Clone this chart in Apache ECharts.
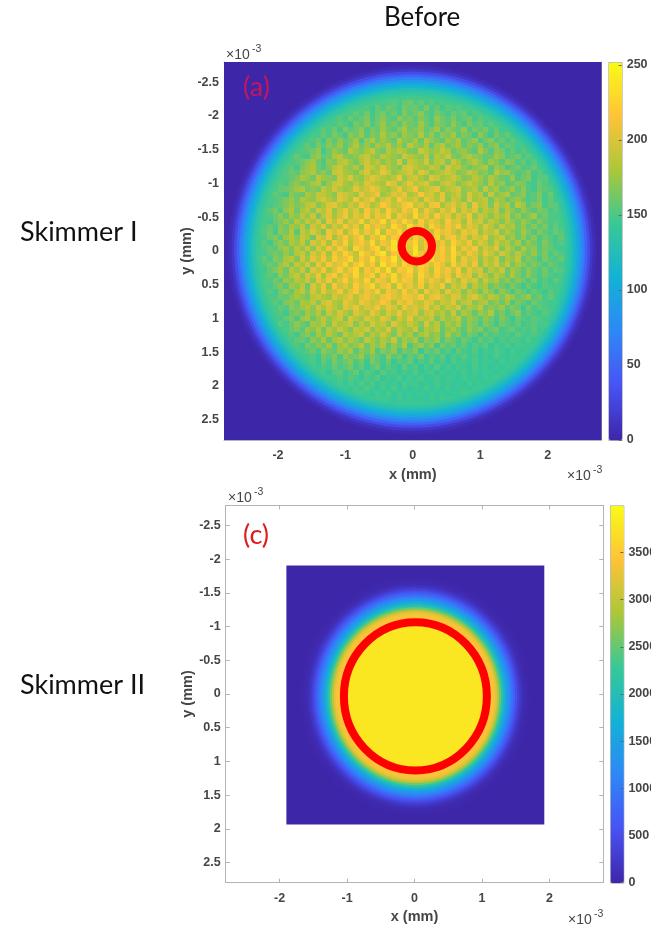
<!DOCTYPE html>
<html>
<head>
<meta charset="utf-8">
<style>html,body{margin:0;padding:0;background:#fff;overflow:hidden}#c{width:651px;height:928px}</style>
<script src="https://cdn.jsdelivr.net/npm/echarts@6/dist/echarts.min.js"></script>
</head>
<body>
<div id="c"></div>
<script>
const parula = ['#3E26A8','#4852F4','#2E87F7','#12B2D6','#37C897','#ABC739','#FEC338','#F9FB15'];
const yTicks = [-2.5,-2,-1.5,-1,-0.5,0,0.5,1,1.5,2,2.5];
const xTicks = [-2,-1,0,1,2];
const barTicksA = [0,50,100,150,200,250];
const barTicksC = [0,500,1000,1500,2000,2500,3000,3500];
const barMaxA = 252;
const barMaxC = 4000;
const axisLimit = 2.8;
const cellMm = 0.08;

// Panel (a) interior: counts per 0.08 mm cell, estimated by eye, top row first; each row is centred on x = 0.
const beamRows = [
[150,156,148,158,160,152,157,149,155,147],
[152,146,158,150,161,155,149,164,157,160,152,166,150,158,147,155,149,153],
[149,157,151,162,147,158,165,153,160,149,167,156,162,171,155,150,163,158,148,161,153,159,146,152],
[154,147,160,152,158,166,150,161,169,157,152,172,160,164,155,168,159,150,173,162,154,165,151,158,163,149,156,150],
[149,158,153,146,164,156,170,151,162,175,158,166,154,171,163,157,178,160,152,169,164,155,172,159,150,165,154,160,148,155],
[156,150,161,148,167,155,160,173,152,166,158,176,163,155,170,180,161,168,174,157,165,178,154,170,162,158,175,152,164,156,168,150,159,147],
[148,159,152,165,157,149,170,162,175,154,168,160,182,165,172,158,177,169,163,184,160,174,156,171,166,179,155,168,161,150,172,158,147,163,152,157],
[153,161,147,168,155,172,159,164,178,152,171,183,162,176,167,158,186,170,165,179,160,188,173,164,155,177,169,181,157,166,174,150,163,170,154,160,149,156],
[158,149,164,154,170,161,176,156,169,184,163,175,159,180,172,188,166,178,161,190,174,168,183,157,176,186,164,172,180,158,169,162,177,153,165,171,151,160,155,148],
[151,156,163,171,148,160,177,166,158,186,174,165,180,192,170,162,183,175,188,179,168,164,194,184,172,177,190,181,160,170,175,163,156,182,168,154,172,165,150,158,147,155],
[159,152,148,167,174,157,163,181,187,169,164,172,184,193,176,168,188,180,173,166,196,185,177,170,191,162,186,179,194,168,160,176,183,172,165,157,161,178,169,153,158,164,149,156],
[150,155,162,170,178,160,152,172,166,184,190,175,163,182,196,178,188,170,181,172,199,165,192,186,176,198,169,183,190,167,194,180,162,175,186,171,158,176,168,155,172,166,151,160,147,154],
[157,149,165,174,180,162,155,168,187,193,176,170,184,166,198,190,178,203,182,173,168,195,200,187,179,174,191,185,165,197,182,189,172,161,170,177,183,156,174,168,152,158,164,150,153,161],
[152,160,156,170,176,183,164,171,160,190,196,180,175,168,188,201,177,184,206,194,172,182,189,198,175,204,192,169,179,186,195,183,167,173,191,180,164,170,158,187,172,177,162,153,158,166,149,155],
[148,153,158,166,181,173,162,188,177,171,165,195,184,200,176,172,189,205,193,183,178,187,209,174,191,198,181,170,203,192,176,185,196,182,168,172,188,178,164,184,171,160,157,175,152,163,168,147,156,154],
[155,150,164,172,160,168,179,186,158,174,192,197,180,171,187,176,203,194,184,178,209,199,173,189,206,183,192,201,176,170,188,196,185,166,179,193,181,173,161,187,168,175,155,159,170,165,151,148,160,153],
[150,157,161,168,176,184,164,171,165,190,178,197,183,174,179,204,188,196,210,200,182,177,191,208,186,195,213,180,189,198,205,175,184,192,199,171,178,187,165,190,172,181,160,166,177,158,171,153,147,163,155,152],
[158,153,149,170,162,159,180,173,191,187,178,169,201,194,183,176,206,190,198,212,174,184,203,196,209,179,187,216,192,200,181,207,174,186,195,170,201,180,188,163,192,168,176,183,158,164,172,152,156,167,149,160],
[152,157,165,174,163,183,177,171,190,198,185,175,204,193,181,211,188,200,214,178,195,207,184,217,198,191,203,176,210,197,183,206,172,194,188,169,201,178,185,191,162,182,175,159,170,175,161,151,155,166,148,157],
[149,155,159,168,177,166,172,186,192,167,180,199,206,187,176,195,184,213,201,179,191,218,205,187,196,213,221,190,200,182,209,215,178,194,204,186,198,172,207,181,191,165,195,174,184,160,187,176,155,166,170,150,158,154],
[156,164,151,173,181,161,179,189,170,197,184,205,173,194,209,186,201,178,216,193,207,182,219,199,188,213,203,224,185,210,196,181,206,192,214,176,199,187,202,170,190,179,193,164,183,172,158,176,163,153,168,160,149,155],
[151,160,171,158,178,168,188,175,194,164,186,202,178,197,211,183,205,192,218,187,209,199,222,181,213,203,191,226,197,208,186,217,193,205,179,200,189,211,174,194,183,169,188,177,191,162,174,158,167,180,154,163,152,149],
[147,157,166,176,160,184,171,192,180,199,169,206,188,214,179,201,195,221,186,210,203,228,190,215,198,224,207,185,219,193,211,200,182,216,196,204,177,209,187,197,172,190,181,167,186,174,160,178,165,155,169,158,150,154],
[150,158,152,169,161,180,172,190,164,196,182,205,176,199,187,215,193,208,181,222,198,212,204,189,226,210,195,232,202,217,186,223,207,191,213,200,218,183,205,194,178,201,188,170,192,176,184,163,173,158,170,155,165,149,157,148],
[153,162,148,172,164,183,156,191,178,201,186,168,209,194,214,180,203,220,190,211,197,229,185,217,206,224,193,213,235,199,208,188,220,204,214,194,181,210,198,206,175,193,184,198,169,186,172,160,179,166,152,168,157,150,161,154],
[149,160,167,155,176,185,170,194,181,163,203,189,211,177,197,216,191,207,224,183,212,200,226,195,218,208,231,188,221,203,214,197,225,186,209,217,192,205,179,200,190,208,173,185,195,167,181,160,174,156,170,150,163,154,147,158],
[155,148,163,173,160,182,174,192,166,199,187,207,178,213,196,222,185,206,217,198,229,191,214,203,234,187,220,210,226,195,216,238,200,211,189,223,205,193,213,181,201,191,171,196,178,186,165,182,158,173,163,151,167,156,149,153],
[151,159,154,170,178,165,187,175,196,171,204,183,212,190,219,201,178,225,209,195,216,228,188,211,232,199,221,206,235,192,214,226,204,218,197,228,186,210,200,215,176,198,187,205,168,190,177,160,184,166,172,153,164,158,150,147],
[148,156,165,157,174,162,184,193,170,200,186,208,177,214,195,223,205,187,229,210,197,221,234,191,216,205,227,199,238,212,190,224,208,218,195,226,203,189,213,198,180,206,192,174,197,183,167,188,171,160,176,155,166,150,159,152],
[157,150,169,160,179,188,168,197,176,206,192,213,183,220,201,210,226,189,217,204,231,196,222,209,236,194,215,228,202,219,185,230,207,216,198,224,181,209,193,204,172,194,179,199,164,183,174,190,157,169,162,148,165,154,151,158],
[152,161,155,172,183,166,191,179,201,173,210,188,217,197,206,224,191,213,229,200,218,186,233,207,221,195,228,210,192,225,214,199,219,205,183,223,196,208,187,212,170,197,184,201,175,192,162,180,170,156,168,160,150,163,155,147],
[146,158,167,177,160,186,174,195,169,204,190,214,181,200,220,193,209,227,185,215,203,224,198,230,188,217,211,226,193,220,207,183,222,202,213,194,218,178,205,191,199,167,188,176,193,161,179,169,155,171,159,151,163,149,157,153],
[157,150,171,162,181,192,172,200,184,211,178,206,219,189,213,198,226,193,208,222,184,216,203,229,196,212,220,187,225,205,192,217,199,210,181,214,195,204,173,198,186,168,191,177,160,182,165,154,172,158,149,161,153,147],
[152,163,156,175,167,186,179,196,171,205,187,214,182,201,221,192,210,197,224,186,214,206,191,227,200,217,209,185,222,196,212,203,188,218,194,176,207,190,199,170,193,178,184,163,175,157,170,160,150,165,148,155,146,158],
[149,158,168,154,178,170,188,161,198,183,208,176,215,193,204,187,220,198,211,226,190,206,216,183,223,199,209,191,218,180,205,195,213,172,197,186,200,166,189,175,181,159,172,163,152,168,156,147,160,151,145,155,150,148],
[154,147,162,171,158,180,190,167,199,178,207,185,194,214,182,203,217,190,209,199,222,184,212,204,189,219,196,208,178,213,193,201,174,206,187,195,169,190,180,160,183,170,153,174,162,150,166,157,148,160,152,146,156,149],
[151,160,157,169,178,172,164,186,192,181,175,199,188,195,206,184,201,212,197,190,209,216,203,194,214,208,199,219,187,205,211,196,183,204,198,176,192,201,185,170,188,179,166,182,174,159,168,176,155,163,150,157],
[156,149,165,172,160,181,176,189,168,194,201,183,177,207,196,186,212,203,191,198,216,205,181,210,199,213,193,186,206,200,178,196,189,204,172,187,194,169,180,185,163,173,160,178,152,166,157,148,162,154,151,147],
[148,158,153,170,163,177,185,171,193,180,198,188,174,204,192,209,183,200,196,213,187,206,198,178,211,194,203,189,208,182,197,175,192,186,201,167,183,176,190,161,172,165,178,154,168,159,146,163,150,157,152,149],
[153,147,162,168,157,179,170,186,164,192,178,199,185,172,203,191,181,207,194,176,201,188,209,183,196,205,174,192,199,179,187,170,195,163,182,173,158,176,169,184,155,166,150,161,171,149,158,152,146,155],
[149,157,166,152,174,182,160,177,189,171,183,195,167,198,186,175,202,190,179,205,193,170,199,184,207,176,191,182,196,165,187,173,180,190,161,175,168,156,172,163,150,167,158,145,160,153,148,156,151,147],
[155,148,159,171,163,153,180,173,187,165,193,178,184,197,169,189,175,200,183,192,172,204,186,177,195,181,168,198,174,188,160,179,170,183,157,173,164,151,169,159,147,162,154,149,158,146,152,155,148,150],
[150,158,165,154,176,168,183,160,188,174,194,179,166,190,184,197,171,186,178,201,169,192,182,175,196,163,185,177,189,158,172,181,165,154,176,162,170,150,159,166,148,155,161,147,153,149,156,146],
[154,147,163,171,157,179,166,185,173,161,191,177,183,194,168,187,174,196,180,164,190,172,184,159,178,188,167,175,156,181,163,170,152,165,158,146,161,151,156,148,153,145,157,150,147,152],
[148,156,160,150,172,164,181,158,176,187,169,183,174,162,191,178,167,185,172,193,160,179,170,182,155,173,165,177,151,168,159,149,163,154,146,158,150,155,144,152,147,153,149,145,151,146],
[152,146,165,157,170,162,178,154,175,183,166,173,187,160,178,169,182,156,174,163,185,151,168,176,159,171,147,164,155,160,149,157,145,153,148,156,143,150,146,152,144,149,147,145],
[149,155,160,150,171,163,158,176,167,181,155,172,164,178,152,169,161,174,149,166,157,170,146,160,153,163,148,155,144,158,150,146,153,143,149,145,151,147,142,148,144,146],
[147,153,145,162,156,168,150,172,160,165,176,153,167,158,148,171,155,162,146,159,150,164,144,155,149,158,143,152,147,154,145,150,142,148,144,151,146,143,147,145],
[150,143,158,148,165,154,160,170,152,163,146,167,156,149,161,144,155,151,159,143,153,147,157,145,150,142,152,146,149,144,151,143,147,145,142,148,144,146],
[145,152,147,160,151,156,164,148,158,144,153,162,146,155,149,143,157,147,152,142,150,145,154,144,148,143,149,146,142,150,144,147,143,146,142,145],
[148,143,153,157,146,151,160,144,154,149,143,156,147,151,142,149,145,153,143,147,150,142,148,144,146,141,149,143,147,142,145,144,143,146],
[145,151,146,155,148,143,152,147,154,142,149,145,151,143,148,144,150,142,146,149,143,147,145,141,148,144,146,142,147,144],
[148,142,150,145,153,146,151,143,149,144,147,142,150,145,148,143,146,141,149,144,147,142,145,143,148,144,146,143],
[143,149,145,151,146,142,148,144,150,143,147,141,146,144,148,142,145,143,147,141,144,146,142,145],
[146,141,148,144,150,143,147,142,145,144,146,141,147,143,145,142,144,143],
[145,141,147,143,146,142,144,141,146,143]
];

// Panel (a) rim: radial profile read at the beam's edge (mm, counts).
const rimRadius = [2.74,2.72,2.68,2.64,2.60,2.56,2.52,2.48,2.44,2.40,2.36,2.32,2.28,2.24];
const rimValue  = [3,6,15,30,48,65,82,98,112,124,134,142,147,150];
const beamCenterA = [-0.01,-0.02];
const squareA = [-2.8,-2.8,2.8,2.8];

// Panel (c): radial profile read along the beam's horizontal diameter (mm, counts).
const profileRadius = [1.72,1.68,1.64,1.60,1.57,1.54,1.51,1.48,1.45,1.42,1.39,1.36,1.33,1.30,1.27,1.24,1.21,1.18,1.15,1.12,1.05];
const profileValue  = [10,30,70,130,220,350,520,720,920,1120,1330,1570,1850,2150,2550,2950,3250,3380,3430,3450,3800];
const beamCenterC = [0.013,0.034];
const squareC = [-1.9,-1.905,1.925,1.935];
const aspectC = 1.04;

// Red markers: centre x, centre y, radius x, radius y (mm)
const ringA = [0.06,-0.07,0.225,0.225];
const ringC = [0.013,0.034,1.06,1.10];

const textColor = '#454545';
const boxColor = '#b4b4b4';
const tickFont = {fontFamily:'Liberation Sans',fontWeight:'bold',fontSize:12.5,color:textColor};
const nameFont = {fontFamily:'Liberation Sans',fontWeight:'bold',fontSize:14.5,color:textColor};

const cellsA = [];
beamRows.forEach((row,r)=>{
  const y = (r+0.5-beamRows.length/2)*cellMm;
  row.forEach((v,c)=>{
    cellsA.push([(c+0.5-row.length/2)*cellMm, y, 0, v]);
  });
});
const discsA = rimRadius.map((rad,i)=>[beamCenterA[0],beamCenterA[1],rad,rimValue[i]]);
const discsC = profileRadius.map((rad,i)=>[beamCenterC[0],beamCenterC[1],rad,profileValue[i]]);

function renderCell(params,api){
  const x=api.value(0),y=api.value(1);
  const a=api.coord([x-cellMm/2,y-cellMm/2]), b=api.coord([x+cellMm/2,y+cellMm/2]);
  const x0=Math.round(a[0]),y0=Math.round(a[1]),x1=Math.round(b[0]),y1=Math.round(b[1]);
  return {type:'rect',shape:{x:x0,y:y0,width:x1-x0,height:y1-y0},style:{fill:api.visual('color')}};
}
function discRenderer(aspect){
  return function(params,api){
    const c=api.coord([api.value(0),api.value(1)]);
    const r=api.size([api.value(2),api.value(2)]);
    return {type:'ellipse',shape:{cx:c[0],cy:c[1],rx:r[0],ry:r[1]*aspect},style:{fill:api.visual('color')}};
  };
}
function renderSquare(params,api){
  const a=api.coord([api.value(0),api.value(1)]), b=api.coord([api.value(2),api.value(3)]);
  return {type:'rect',shape:{x:a[0],y:a[1],width:b[0]-a[0],height:b[1]-a[1]},style:{fill:parula[0]}};
}
function ringRenderer(width){
  return function(params,api){
    const c=api.coord([api.value(0),api.value(1)]);
    const s=api.size([api.value(2),api.value(3)]);
    return {type:'ellipse',shape:{cx:c[0],cy:c[1],rx:s[0],ry:s[1]},style:{fill:null,stroke:'#FF0000',lineWidth:width}};
  };
}

function mainX(grid,labelled){
  return {gridIndex:grid,type:'value',min:-axisLimit,max:axisLimit,position:labelled?'bottom':'top',
    name:labelled?'x (mm)':'',nameLocation:'middle',nameGap:27,nameMoveOverlap:false,nameTextStyle:nameFont,
    axisLine:{show:true,onZero:false,lineStyle:{color:boxColor}},
    axisTick:{show:true,inside:true,length:4,customValues:xTicks,lineStyle:{color:boxColor}},
    axisLabel:{show:labelled,margin:9,customValues:xTicks,formatter:v=>String(v),...tickFont},
    splitLine:{show:false}};
}
function mainY(grid,labelled){
  return {gridIndex:grid,type:'value',inverse:true,min:-axisLimit,max:axisLimit,position:labelled?'left':'right',
    name:labelled?'y (mm)':'',nameLocation:'middle',nameGap:30,nameRotate:90,nameMoveOverlap:false,nameTextStyle:nameFont,
    axisLine:{show:true,onZero:false,lineStyle:{color:boxColor}},
    axisTick:{show:true,inside:true,length:4,customValues:yTicks,lineStyle:{color:boxColor}},
    axisLabel:{show:labelled,margin:5,padding:[6,0,0,0],customValues:yTicks,formatter:v=>String(v),...tickFont},
    splitLine:{show:false}};
}
function barX(grid){
  return {gridIndex:grid,type:'value',min:0,max:1,show:false};
}
function barY(grid,max,ticks){
  return {gridIndex:grid,type:'value',min:0,max:max,position:'right',z:10,
    axisLine:{show:false,onZero:false},
    axisTick:{show:true,inside:true,length:3,customValues:ticks,lineStyle:{color:'#666'}},
    axisLabel:{show:true,margin:5,padding:[6,0,0,0],customValues:ticks,formatter:v=>String(v),...tickFont},
    splitLine:{show:false}};
}
function colorBar(series,dim,max,left,top,w,h){
  return {type:'continuous',seriesIndex:series,dimension:dim,min:0,max:max,left:left,top:top,itemWidth:w,itemHeight:h,
    padding:0,calculable:false,realtime:false,hoverLink:false,text:null,showLabel:false,
    borderColor:boxColor,borderWidth:1,inRange:{color:parula}};
}
function label(text,x,y,size,color){
  return {type:'text',x:x,y:y,z:20,style:{text:text,fontSize:size,fontFamily:'Lato',fill:color,textAlign:'left',textVerticalAlign:'middle'}};
}
function exponent(x,y){
  return [
    {type:'text',x:x,y:y,z:20,style:{text:'×10',fontFamily:'Liberation Sans',fontSize:14,fill:textColor,textVerticalAlign:'middle'}},
    {type:'text',x:x+26,y:y-6,z:20,style:{text:'-3',fontFamily:'Liberation Sans',fontSize:10.5,fill:textColor,textVerticalAlign:'middle'}}
  ];
}

const chart = echarts.init(document.getElementById('c'),null,{renderer:'canvas',width:651,height:928});
chart.setOption({
  animation:false,
  backgroundColor:'#fff',
  grid:[
    {left:224,top:62,width:377.6,height:378,outerBoundsMode:'none'},
    {left:225.7,top:505.3,width:377.6,height:377.4,outerBoundsMode:'none'},
    {left:608.3,top:62,width:13.4,height:378,outerBoundsMode:'none'},
    {left:610,top:505.3,width:13.4,height:377.4,outerBoundsMode:'none'}
  ],
  xAxis:[mainX(0,true),mainX(0,false),mainX(1,true),mainX(1,false),barX(2),barX(3)],
  yAxis:[mainY(0,true),mainY(0,false),mainY(1,true),mainY(1,false),barY(2,barMaxA,barTicksA),barY(3,barMaxC,barTicksC)],
  visualMap:[
    colorBar([1,2],3,barMaxA,608.3,62,13.4,378),
    colorBar(5,3,barMaxC,610,505.3,13.4,377.4)
  ],
  series:[
    {type:'custom',xAxisIndex:0,yAxisIndex:0,renderItem:renderSquare,data:[squareA],z:2,silent:true},
    {type:'custom',xAxisIndex:0,yAxisIndex:0,renderItem:discRenderer(1),data:discsA,z:3,silent:true,progressive:0},
    {type:'custom',xAxisIndex:0,yAxisIndex:0,renderItem:renderCell,data:cellsA,z:4,silent:true,progressive:0},
    {type:'custom',xAxisIndex:0,yAxisIndex:0,renderItem:ringRenderer(8),data:[ringA],z:5,silent:true},
    {type:'custom',xAxisIndex:2,yAxisIndex:2,renderItem:renderSquare,data:[squareC],z:2,silent:true},
    {type:'custom',xAxisIndex:2,yAxisIndex:2,renderItem:discRenderer(aspectC),data:discsC,z:3,silent:true,progressive:0},
    {type:'custom',xAxisIndex:2,yAxisIndex:2,renderItem:ringRenderer(8),data:[ringC],z:4,silent:true}
  ],
  graphic:[
    label('Before',384,18,26,'#111'),
    label('Skimmer I',20,232,27,'#111'),
    label('Skimmer II',20,685,27,'#111'),
    label('(a)',243,87,27,'#C2185B'),
    label('(c)',243,535,27,'#E01A1A'),
    ...exponent(226,55),...exponent(567,476),...exponent(228,498),...exponent(568,920)
  ]
});
</script>
</body>
</html>
